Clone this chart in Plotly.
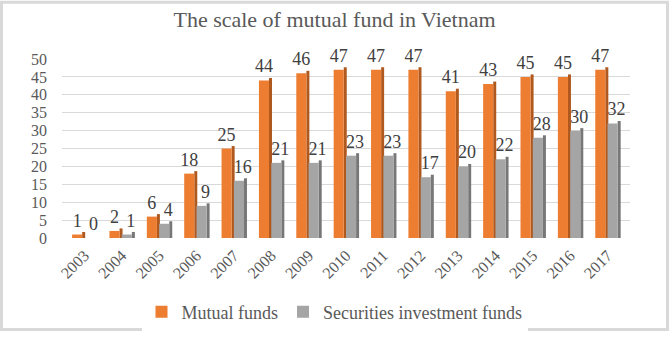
import plotly.graph_objects as go

years = ["2003", "2004", "2005", "2006", "2007", "2008", "2009", "2010",
         "2011", "2012", "2013", "2014", "2015", "2016", "2017"]
mutual_funds = [1, 2, 6, 18, 25, 44, 46, 47, 47, 47, 41, 43, 45, 45, 47]
securities_funds = [0, 1, 4, 9, 16, 21, 21, 23, 23, 17, 20, 22, 28, 30, 32]
y_ticks = [0, 5, 10, 15, 20, 25, 30, 35, 40, 45, 50]

idx = list(range(len(years)))
FONT = "Liberation Serif, Times New Roman, serif"
ORANGE, ORANGE_SIDE = "#ED7D31", "#B0591F"
GRAY, GRAY_SIDE = "#A5A5A5", "#777777"
DEPTH = 0.7  # visual 3D depth, in axis units

fig = go.Figure()

def add_series(vals, name, front, side, off_front, off_side):
    fig.add_trace(go.Bar(x=idx, y=[v + DEPTH if v > 0 else v for v in vals],
                         width=0.08, offset=off_side, marker_color=side,
                         marker_line_width=0, showlegend=False, hoverinfo="skip"))
    fig.add_trace(go.Bar(x=idx, y=vals, width=0.27, offset=off_front, name=name,
                         marker_color=front, marker_line_width=0))

add_series(mutual_funds, "Mutual funds", ORANGE, ORANGE_SIDE, -0.33, -0.06)
add_series(securities_funds, "Securities investment funds", GRAY, GRAY_SIDE, 0.0, 0.27)

# data labels
fig.add_trace(go.Scatter(x=[i - 0.195 for i in idx], y=mutual_funds, mode="markers+text",
                         text=[str(v) for v in mutual_funds], textposition="top center",
                         marker=dict(size=4, color="rgba(0,0,0,0)"),
                         textfont=dict(family=FONT, size=18, color="#404040"),
                         showlegend=False, hoverinfo="skip", cliponaxis=False))
fig.add_trace(go.Scatter(x=[i + 0.24 for i in idx], y=securities_funds, mode="markers+text",
                         text=[str(v) for v in securities_funds], textposition="top center",
                         marker=dict(size=4, color="rgba(0,0,0,0)"),
                         textfont=dict(family=FONT, size=18, color="#404040"),
                         showlegend=False, hoverinfo="skip", cliponaxis=False))

L, R, T, B = 62, 39, 59, 95
W, H = 669, 337
pw, ph = W - L - R, H - T - B

fig.update_layout(
    width=W, height=H,
    margin=dict(l=L, r=R, t=T, b=B),
    barmode="overlay",
    paper_bgcolor="white", plot_bgcolor="white",
    title=dict(text="The scale of mutual fund in Vietnam", x=0.5, xanchor="center",
               y=1 - 19 / H, yanchor="middle", yref="container",
               font=dict(family=FONT, size=22, color="#595959")),
    xaxis=dict(range=[-0.6, 14.6], tickmode="array", tickvals=idx, ticktext=years,
               tickangle=-45, showgrid=False, zeroline=False, showline=False,
               ticklabelstandoff=4,
               tickfont=dict(family=FONT, size=16, color="#595959")),
    yaxis=dict(range=[0, 50], tickmode="array", tickvals=y_ticks,
               showgrid=True, gridcolor="#D9D9D9", gridwidth=1, zeroline=False,
               showline=False, ticklabelstandoff=14,
               tickfont=dict(family=FONT, size=16, color="#595959")),
    legend=dict(orientation="h", x=0.5, xanchor="center", xref="container",
                y=25 / H, yanchor="middle", yref="container",
                font=dict(family=FONT, size=18, color="#595959"),
                itemwidth=30, traceorder="normal"),
    shapes=[dict(type="rect", xref="paper", yref="paper",
                 x0=-(L - 1.5) / pw, x1=(W - L - 1.5) / pw,
                 y0=-(B - 1.5) / ph, y1=(H - B - 1) / ph,
                 line=dict(color="#D9D9D9", width=3), fillcolor="rgba(0,0,0,0)",
                 layer="below")],
)

fig.write_html("out.html", config={"displayModeBar": False},
               post_script="document.body.style.margin='0';document.body.style.overflow='hidden';")
